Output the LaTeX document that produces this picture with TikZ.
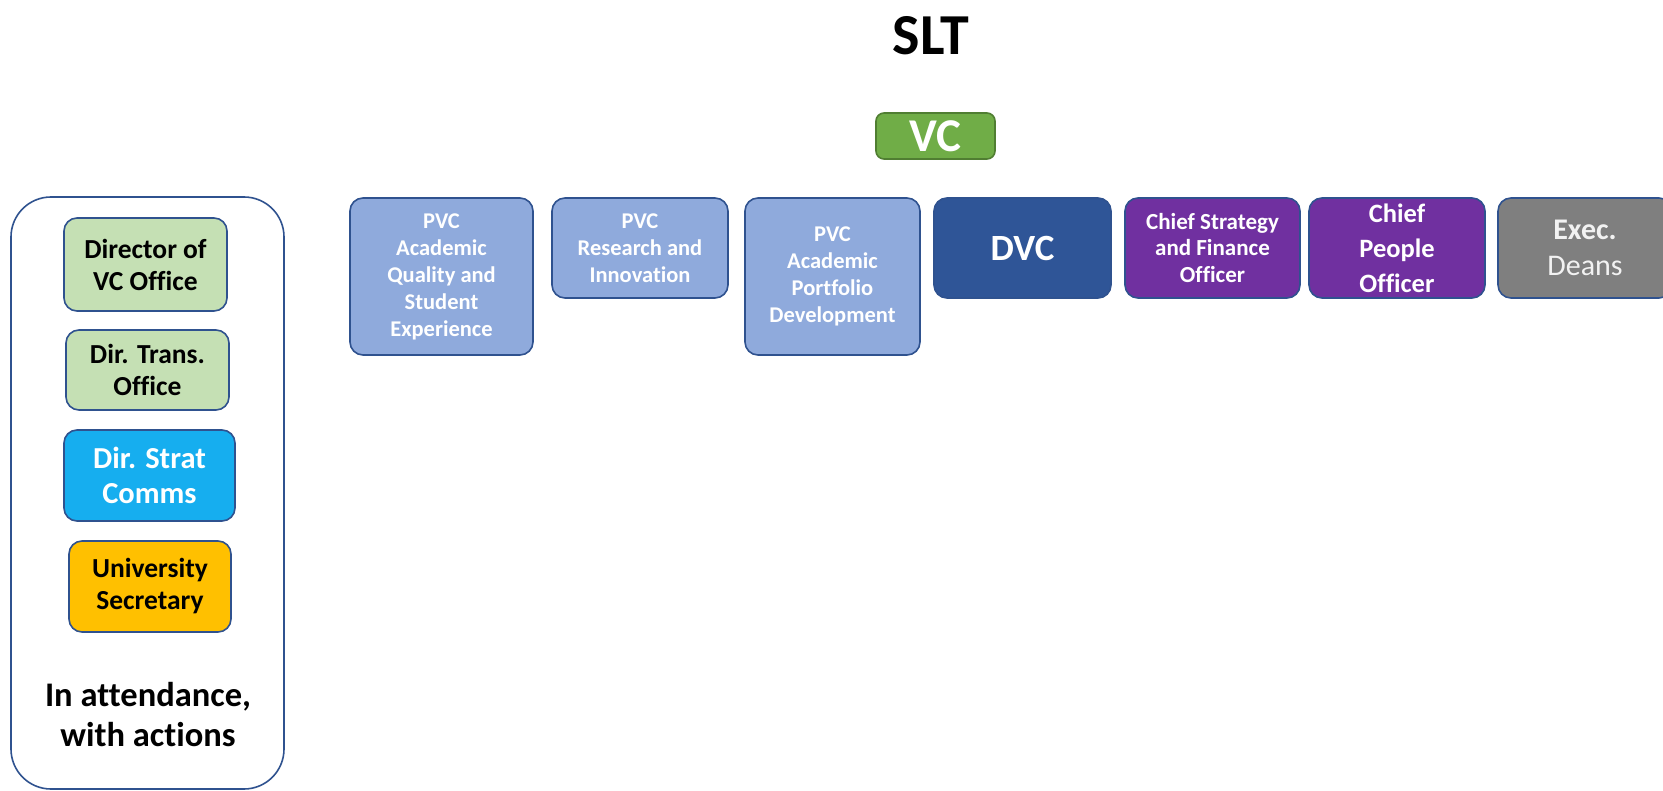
\documentclass[tikz,border=0pt]{standalone}
\usepackage{fontspec}
\setmainfont{Carlito}[Ligatures={NoCommon}]
\definecolor{bordc}{HTML}{2F528F}
\definecolor{vcgreen}{HTML}{70AD47}
\definecolor{vcborder}{HTML}{507E32}
\definecolor{pvcblue}{HTML}{8FAADC}
\definecolor{dvcblue}{HTML}{2F5597}
\definecolor{purp}{HTML}{7030A0}
\definecolor{execgray}{HTML}{7F7F7F}
\definecolor{lgreen}{HTML}{C5E0B4}
\definecolor{commsblue}{HTML}{16AEEF}
\definecolor{secgold}{HTML}{FFC000}
\definecolor{offwhite}{HTML}{F2F2F2}
\begin{document}
\begin{tikzpicture}[x=1pt,y=-1pt,
  box/.style={draw=bordc, line width=1.6pt, rounded corners=13pt, align=center,
    inner sep=0pt, font=\bfseries},
  pvc/.style={box, fill=pvcblue, text=white, font=\bfseries\fontsize{22.5}{27}\selectfont},
  purpbox/.style={box, fill=purp, text=white},
  leftbox/.style={box, text=black, font=\bfseries\fontsize{27.5}{32}\selectfont},
  sz/.style 2 args={minimum width=#1pt, minimum height=#2pt}
]
\useasboundingbox (0,0) rectangle (1663,791);
\begin{scope}
\clip (0,0) rectangle (1663,791);

\node[font=\bfseries\fontsize{58}{66}\selectfont] (slt) at (931,36) {SLT};
\node[box, draw=vcborder, fill=vcgreen, text=white, rounded corners=8pt, sz={119}{46},
  font=\bfseries\fontsize{47}{52}\selectfont] (vc) at (935.5,136) {VC};

\node[draw=bordc, line width=1.6pt, rounded corners=40pt, fill=white, sz={273}{592}] (outer) at (147.5,493) {};
\node[leftbox, fill=lgreen, sz={163}{93}] (dvco) at (145.5,264.5) {Director of\\VC Office};
\node[leftbox, fill=lgreen, sz={163}{80}] (dto) at (147.5,370) {Dir. Trans.\\Office};
\node[leftbox, fill=commsblue, text=white, sz={171}{91},
  font=\bfseries\fontsize{30.5}{35}\selectfont] (dsc) at (149.5,475.5) {Dir. Strat\\Comms};
\node[leftbox, fill=secgold, sz={162}{91}] (us) at (150,586.5) {University\\Secretary};
\node[align=center, font=\bfseries\fontsize{34.5}{40}\selectfont] (att) at (148,715) {In attendance,\\with actions};

\node[pvc, sz={183}{157}] (pvc1) at (441.5,276.5) {PVC\\Academic\\Quality and\\Student\\Experience};
\node[pvc, sz={176}{100}] (pvc2) at (640,248) {PVC\\Research and\\Innovation};
\node[pvc, sz={175}{157}] (pvc3) at (832.5,276.5) {PVC\\Academic\\Portfolio\\Development};
\node[box, fill=dvcblue, text=white, sz={177}{100},
  font=\bfseries\fontsize{37}{42}\selectfont] (dvc) at (1022.5,248) {DVC};
\node[purpbox, sz={175}{100}, font=\bfseries\fontsize{23}{26.5}\selectfont] (csfo) at (1212.5,248) {Chief Strategy\\and Finance\\Officer};
\node[purpbox, sz={176}{100}, font=\bfseries\fontsize{26.5}{35}\selectfont] (cpo) at (1397,248) {Chief\\People\\Officer};
\node[box, fill=execgray, text=offwhite, sz={174}{100}, font=\fontsize{30}{36}\selectfont] (exec) at (1585,248) {\textbf{Exec.}\\Deans};
\end{scope}
\end{tikzpicture}
\end{document}
